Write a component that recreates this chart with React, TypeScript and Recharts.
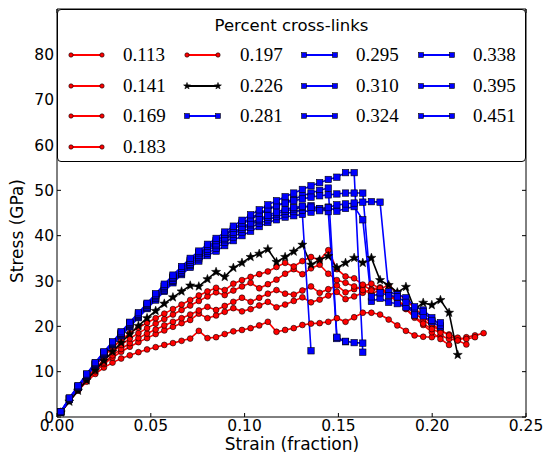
import React from 'react';
import { LineChart, Line, XAxis, YAxis, ReferenceArea } from 'recharts';

// ---------- data ----------
const STRAIN = [0.002, 0.0066, 0.0112, 0.0158, 0.0204, 0.025, 0.0296, 0.0342, 0.0388, 0.0434,
  0.048, 0.0526, 0.0572, 0.0618, 0.0664, 0.071, 0.0756, 0.0802, 0.0848, 0.0894,
  0.094, 0.0986, 0.1032, 0.1078, 0.1124, 0.117, 0.1216, 0.1262, 0.1308, 0.1354,
  0.14, 0.1446, 0.1492, 0.1538, 0.1584, 0.163, 0.1676, 0.1722, 0.1768, 0.1814,
  0.186, 0.1906, 0.1952, 0.1998, 0.2044, 0.209, 0.2136, 0.2182, 0.2228, 0.2274];

const S_0113 = [1.0, 3.5, 5.8, 7.8, 9.5, 10.9, 12.0, 12.9, 13.6, 14.3, 14.9, 15.4, 15.9, 16.3, 16.8, 17.3, 19.0, 17.4, 17.6, 18.3,
  18.9, 19.2, 19.6, 20.2, 21.0, 18.8, 19.2, 19.6, 20.3, 20.6, 20.7, 21.0, 21.8, 21.0, 22.0, 23.0, 23.0, 22.6, 21.5, 20.2,
  19.0, 18.0, 17.7, 17.6, 18.0, 17.2, 16.9, 17.6, 18.0, 18.5];
const S_0141 = [1.0, 3.6, 6.0, 8.2, 10.1, 11.7, 13.1, 14.4, 15.5, 16.5, 17.4, 18.3, 19.1, 19.9, 20.7, 21.4, 22.8, 21.8, 22.4, 23.2,
  24.0, 23.3, 23.8, 24.6, 25.4, 24.2, 24.8, 25.6, 26.4, 25.3, 25.9, 26.8, 27.6, 26.0, 26.6, 27.4, 28.2, 28.6, 27.3, 25.8,
  24.4, 22.9, 21.5, 20.1, 19.0, 18.2, 17.5, 17.2, 17.6];
const S_0169 = [1.0, 3.7, 6.1, 8.3, 10.3, 12.0, 13.6, 15.0, 16.3, 17.4, 18.4, 19.3, 20.2, 21.0, 21.8, 22.6, 23.5, 24.3, 23.6, 24.5,
  25.4, 26.3, 25.4, 26.3, 27.2, 28.0, 27.2, 27.0, 27.9, 28.8, 27.4, 28.2, 29.0, 27.5, 28.2, 28.9, 29.4, 28.3, 29.0, 27.4,
  25.8, 24.0, 22.3, 20.5, 19.2, 18.0, 16.9, 16.0];
const S_0183 = [1.0, 3.8, 6.3, 8.6, 10.7, 12.6, 14.3, 15.9, 17.3, 18.5, 19.6, 20.6, 21.6, 22.6, 23.6, 24.6, 25.6, 26.6, 27.5, 26.9,
  27.9, 28.8, 29.6, 28.4, 29.3, 30.3, 31.6, 32.6, 31.5, 32.8, 33.6, 31.6, 30.2, 29.6, 28.8, 28.0, 27.2, 28.0, 27.0, 25.6,
  23.8, 21.9, 20.3, 18.7, 17.2, 15.9];
const S_0197 = [1.0, 3.8, 6.5, 9.0, 11.3, 13.4, 15.3, 17.0, 18.5, 19.7, 20.8, 21.8, 22.8, 23.8, 24.8, 25.8, 26.8, 27.7, 28.5, 28.0,
  29.4, 30.2, 30.9, 31.5, 32.1, 33.1, 34.0, 33.2, 34.4, 35.3, 34.6, 36.8, 32.6, 31.0, 30.6, 29.2, 27.9, 28.4, 27.0, 25.4,
  23.9, 22.2, 20.6, 19.4, 18.6];
const S_0226 = [1.0, 3.4, 5.8, 8.1, 10.3, 12.4, 14.4, 16.4, 18.3, 20.1, 21.8, 23.4, 25.0, 26.4, 27.7, 29.0, 28.8, 30.4, 32.0, 30.9,
  32.9, 34.0, 35.3, 36.0, 37.0, 34.2, 35.3, 36.5, 38.0, 33.6, 34.7, 35.5, 32.9, 34.0, 35.1, 34.0, 35.1, 30.2, 29.1, 27.5,
  28.7, 23.8, 25.2, 24.7, 25.8, 23.0, 13.7];
const S_0281 = [1.0, 3.9, 6.5, 9.0, 11.4, 13.7, 15.9, 17.9, 19.9, 21.9, 23.9, 25.8, 27.7, 29.6, 31.4, 33.0, 34.4, 35.6, 36.6, 37.8,
  38.9, 40.0, 41.0, 42.0, 42.9, 43.5, 44.1, 44.4, 44.7, 14.6];
const S_0295 = [1.1, 4.0, 6.5, 9.0, 11.5, 13.8, 16.0, 18.1, 20.1, 22.1, 24.1, 26.1, 28.0, 29.9, 31.7, 33.4, 34.9, 36.1, 37.2, 38.5,
  39.7, 40.8, 41.8, 42.7, 43.5, 44.2, 44.8, 45.3, 45.6, 45.2, 45.9, 46.3, 45.4, 46.0, 46.4, 43.5, 25.5, 26.2, 25.3, 25.0,
  24.2, 23.2, 22.3, 21.0, 19.9];
const S_0310 = [1.0, 3.9, 6.6, 9.2, 11.6, 13.9, 16.1, 18.2, 20.3, 22.3, 24.3, 26.3, 28.3, 30.2, 32.0, 33.7, 35.3, 36.6, 37.8, 39.1,
  40.3, 41.4, 42.4, 43.3, 44.1, 44.8, 45.4, 45.9, 46.3, 46.6, 46.0, 45.3, 17.3, 16.6];
const S_0324 = [1.2, 4.1, 6.8, 9.4, 11.9, 14.2, 16.4, 18.6, 20.7, 22.8, 24.9, 26.9, 28.9, 30.8, 32.6, 34.4, 36.0, 37.3, 38.6, 40.0,
  41.3, 42.5, 43.6, 44.7, 45.7, 46.6, 47.4, 48.1, 48.8, 49.4, 50.0, 50.5, 17.6, 16.7, 16.4, 16.3];
const S_0338 = [1.1, 4.0, 6.6, 9.2, 11.7, 14.1, 16.3, 18.4, 20.5, 22.5, 24.6, 26.7, 28.7, 30.6, 32.4, 34.1, 35.7, 37.0, 38.2, 39.5,
  40.7, 41.8, 42.8, 43.7, 44.5, 45.2, 45.8, 46.2, 46.5, 46.3, 45.5, 46.2, 46.8, 47.0, 47.2, 47.4, 47.5, 47.4, 27.6, 27.0,
  26.3, 24.3, 23.6, 21.9, 20.2];
const S_0395 = [1.1, 4.1, 6.7, 9.3, 11.8, 14.2, 16.4, 18.5, 20.6, 22.7, 24.8, 26.9, 28.9, 30.9, 32.8, 34.6, 36.2, 37.6, 38.9, 40.3,
  41.6, 42.8, 43.9, 44.9, 45.9, 46.6, 47.2, 47.7, 48.1, 48.5, 48.8, 49.0, 49.2, 49.4, 49.4, 49.4, 26.5, 27.4, 26.8, 26.5,
  25.3, 22.5, 23.3, 21.3, 20.8];
const S_0451 = [1.2, 4.2, 6.9, 9.5, 12.0, 14.4, 16.6, 18.8, 20.9, 23.0, 25.1, 27.2, 29.3, 31.3, 33.2, 35.0, 36.6, 38.1, 39.4, 40.8,
  42.1, 43.4, 44.6, 45.7, 46.8, 47.7, 48.6, 49.4, 50.2, 51.0, 51.7, 52.4, 52.9, 53.9, 53.9, 14.3];

const LABELS = ['0.113', '0.141', '0.169', '0.183', '0.197', '0.226', '0.281', '0.295', '0.310', '0.324', '0.338', '0.395', '0.451'];
const VALUES = [S_0113, S_0141, S_0169, S_0183, S_0197, S_0226, S_0281, S_0295, S_0310, S_0324, S_0338, S_0395, S_0451];
const KINDS = ['circle', 'circle', 'circle', 'circle', 'circle', 'star', 'square', 'square', 'square', 'square', 'square', 'square', 'square'];

const X_TICKS = [0, 0.05, 0.1, 0.15, 0.2, 0.25];
const Y_TICKS = [0, 10, 20, 30, 40, 50, 60, 70, 80];
const LEGEND_TITLE = 'Percent cross-links';

// ---------- style ----------
const W = 547;
const H = 459;
const PL = 57, PR = 526, PT = 9, PB = 417;
const COLORS: Record<string, string> = { circle: '#ff0000', star: '#000000', square: '#0000ff' };
const TICK_FONT = { fontFamily: 'DejaVu Sans', fontSize: 15.5, fill: '#000' };

function starPts(cx: number, cy: number, R: number, r: number) {
  const pts: string[] = [];
  for (let i = 0; i < 10; i++) {
    const rad = i % 2 === 0 ? R : r;
    const a = -Math.PI / 2 + (i * Math.PI) / 5;
    pts.push(`${cx + rad * Math.cos(a)},${cy + rad * Math.sin(a)}`);
  }
  return pts.join(' ');
}

function Marker({ kind, cx, cy, scale = 1 }: { kind: string; cx: number; cy: number; scale?: number }) {
  if (kind === 'circle') {
    return <circle cx={cx} cy={cy} r={2.9 * scale} fill="#ff0000" stroke="#000" strokeWidth={0.6} />;
  }
  if (kind === 'square') {
    const s = 6.4 * scale;
    return <rect x={cx - s / 2} y={cy - s / 2} width={s} height={s} fill="#0000ff" stroke="#000" strokeWidth={0.6} />;
  }
  return <polygon points={starPts(cx, cy, 4.8 * scale, 2 * scale)} fill="#000" stroke="#000" strokeWidth={0.5} />;
}

const XTick = (props: any) => {
  const { x, y, payload } = props;
  return (
    <g>
      <line x1={x} x2={x} y1={PB} y2={PB - 4} stroke="#000" strokeWidth={1} />
      <line x1={x} x2={x} y1={PT} y2={PT + 4} stroke="#000" strokeWidth={1} />
      <text x={x} y={y + 14} textAnchor="middle" {...TICK_FONT}>
        {Number(payload.value).toFixed(2)}
      </text>
    </g>
  );
};

const YTick = (props: any) => {
  const { x, y, payload } = props;
  return (
    <g>
      <line x1={PL} x2={PL + 4} y1={y} y2={y} stroke="#000" strokeWidth={1} />
      <line x1={PR} x2={PR - 4} y1={y} y2={y} stroke="#000" strokeWidth={1} />
      <text x={x - 3} y={y + 5.6} textAnchor="end" {...TICK_FONT}>
        {payload.value}
      </text>
    </g>
  );
};

const makeDot = (kind: string) => (props: any) => {
  const { cx, cy, index } = props;
  if (cx == null || cy == null) return <g key={index} />;
  return (
    <g key={index}>
      <Marker kind={kind} cx={cx} cy={cy} />
    </g>
  );
};

const SERIES = LABELS.map((label, i) => ({
  label,
  kind: KINDS[i],
  data: VALUES[i].map((v, k) => ({ x: STRAIN[k], y: v })),
}));

// legend layout: column-major, 4 rows
const LEG_COL_SAMPLE = [13, 129, 246, 363];
const LEG_COL_TEXT = [65, 182, 298, 415];
const LEG_ROW_Y = [45, 76, 106, 137];
const legendCells = (() => {
  const cells: { label: string; kind: string; col: number; row: number }[] = [];
  const perCol = [4, 3, 3, 3];
  let idx = 0;
  perCol.forEach((n, c) => {
    for (let r = 0; r < n; r++) {
      cells.push({ label: LABELS[idx], kind: KINDS[idx], col: c, row: r });
      idx++;
    }
  });
  return cells;
})();

export default function App() {
  return (
    <div style={{ position: 'absolute', left: 0, top: 0, width: W, height: H, background: '#fff', overflow: 'hidden' }}>
      <LineChart width={W} height={H} margin={{ top: PT, right: W - PR, left: 0, bottom: 0 }}>
        <XAxis
          dataKey="x"
          type="number"
          domain={[0, 0.25]}
          ticks={X_TICKS}
          interval={0}
          height={H - PB}
          tickSize={0}
          tickMargin={0}
          axisLine={false}
          tickLine={false}
          tick={<XTick />}
          allowDataOverflow
        />
        <YAxis
          type="number"
          domain={[0, 90]}
          ticks={Y_TICKS}
          interval={0}
          width={PL}
          tickSize={0}
          tickMargin={0}
          axisLine={false}
          tickLine={false}
          tick={<YTick />}
          allowDataOverflow
        />
        <ReferenceArea x1={0} x2={0.25} y1={0} y2={90} fill="none" stroke="#000" strokeWidth={1} ifOverflow="visible" />
        {SERIES.map((s) => (
          <Line
            key={s.label}
            data={s.data}
            dataKey="y"
            type="linear"
            stroke={COLORS[s.kind]}
            strokeWidth={1.6}
            dot={makeDot(s.kind)}
            activeDot={false}
            isAnimationActive={false}
          />
        ))}
      </LineChart>

      {/* legend */}
      <div
        style={{
          position: 'absolute',
          left: PL,
          top: PT,
          width: PR - PL,
          height: 153,
          boxSizing: 'border-box',
          border: '1px solid #000',
          borderRadius: 4,
          background: '#fff',
        }}
      >
        <div
          style={{
            position: 'absolute',
            left: 0,
            right: 0,
            top: 6,
            textAlign: 'center',
            fontFamily: 'DejaVu Sans',
            fontSize: 16.5,
            lineHeight: '20px',
          }}
        >
          {LEGEND_TITLE}
        </div>
        {legendCells.map((c) => (
          <React.Fragment key={c.label}>
            <svg
              style={{ position: 'absolute', left: LEG_COL_SAMPLE[c.col] - 4, top: LEG_ROW_Y[c.row] - 6 }}
              width={40}
              height={12}
            >
              <line x1={4} x2={35} y1={6} y2={6} stroke={COLORS[c.kind]} strokeWidth={2} />
              <Marker kind={c.kind} cx={4} cy={6} scale={0.75} />
              <Marker kind={c.kind} cx={35} cy={6} scale={0.75} />
            </svg>
            <div
              style={{
                position: 'absolute',
                left: LEG_COL_TEXT[c.col],
                top: LEG_ROW_Y[c.row] - 12,
                height: 24,
                lineHeight: '24px',
                fontFamily: 'Liberation Serif',
                fontSize: 19,
                whiteSpace: 'nowrap',
              }}
            >
              {c.label}
            </div>
          </React.Fragment>
        ))}
      </div>

      {/* axis titles */}
      <div
        style={{
          position: 'absolute',
          left: 192,
          width: 200,
          top: 436,
          height: 17,
          lineHeight: '17px',
          textAlign: 'center',
          fontFamily: 'DejaVu Sans',
          fontSize: 17,
          whiteSpace: 'nowrap',
        }}
      >
        Strain (fraction)
      </div>
      <div
        style={{
          position: 'absolute',
          left: 17 - 70,
          width: 140,
          top: 231 - 10,
          height: 20,
          lineHeight: '20px',
          textAlign: 'center',
          fontFamily: 'DejaVu Sans',
          fontSize: 17,
          whiteSpace: 'nowrap',
          transform: 'rotate(-90deg)',
        }}
      >
        Stress (GPa)
      </div>
    </div>
  );
}
